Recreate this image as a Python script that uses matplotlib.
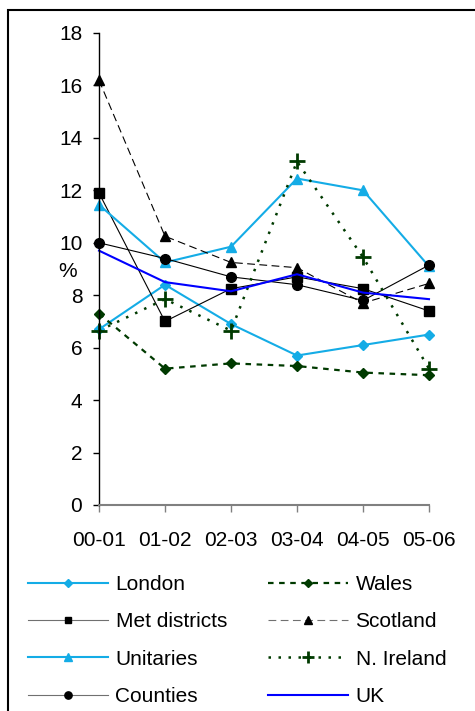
import matplotlib
matplotlib.use("Agg")
import matplotlib.pyplot as plt
from matplotlib.patches import Rectangle

plt.rcParams['font.family'] = ['Liberation Sans', 'DejaVu Sans']

years = ['00-01', '01-02', '02-03', '03-04', '04-05', '05-06']

london = [6.7, 8.4, 6.9, 5.7, 6.1, 6.5]
met_districts = [11.9, 7.0, 8.25, 8.7, 8.25, 7.4]
unitaries = [11.45, 9.25, 9.85, 12.45, 12.0, 9.1]
counties = [10.0, 9.4, 8.7, 8.4, 7.8, 9.15]
wales = [7.3, 5.2, 5.4, 5.3, 5.05, 4.95]
scotland = [16.2, 10.25, 9.25, 9.05, 7.7, 8.45]
n_ireland = [6.65, 7.85, 6.65, 13.1, 9.45, 5.2]
uk = [9.7, 8.5, 8.15, 8.8, 8.1, 7.85]

sky = '#14ACE6'
green = '#003A00'

fig = plt.figure(figsize=(4.75, 7.11), dpi=100)
ax = fig.add_axes([99 / 475, 1 - 505 / 711, 330 / 475, 472 / 711])

x = range(len(years))
h_london, = ax.plot(x, london, color=sky, lw=1.5, marker='D', ms=5.5, label='London')
h_met, = ax.plot(x, met_districts, color='black', lw=0.8, marker='s', ms=6.5, label='Met districts')
h_uni, = ax.plot(x, unitaries, color=sky, lw=1.5, marker='^', ms=7.5, label='Unitaries')
h_cty, = ax.plot(x, counties, color='black', lw=0.8, marker='o', ms=7, label='Counties')
h_wales, = ax.plot(x, wales, color=green, lw=1.6, ls=(0, (2.5, 2.5)), marker='D', ms=5.5, label='Wales')
h_scot, = ax.plot(x, scotland, color='black', lw=0.8, ls=(0, (7, 4)), marker='^', ms=7, label='Scotland')
h_ni, = ax.plot(x, n_ireland, color=green, lw=1.8, ls=(0, (1, 3)), marker='+', ms=11, mew=2, label='N. Ireland')
h_uk, = ax.plot(x, uk, color='#0000FF', lw=1.5, label='UK')

ax.set_xlim(0, 5)
ax.set_ylim(0, 18)
ax.set_yticks(range(0, 19, 2))
ax.set_xticks(list(x))
ax.set_xticklabels(years)
for s in ['top', 'right']:
    ax.spines[s].set_visible(False)
ax.spines['left'].set_color('black')
ax.spines['left'].set_linewidth(1.0)
ax.spines['bottom'].set_color('#808080')
ax.spines['bottom'].set_linewidth(1.5)
ax.tick_params(axis='y', length=4, width=1, pad=8, labelsize=15, colors='black')
ax.tick_params(axis='x', length=5, width=1, color='#808080', pad=14, labelsize=15, labelcolor='black')
for m in [h_london, h_met, h_uni, h_cty, h_wales, h_scot, h_ni, h_uk]:
    m.set_clip_on(False)

fig.text(68 / 475, 1 - 271 / 711, '%', fontsize=15, ha='center', va='center')

leg_opts = dict(frameon=False, fontsize=15, handlelength=3.85, handletextpad=0.35,
                labelspacing=0.88, numpoints=1, markerscale=0.75, borderpad=0,
                borderaxespad=0, loc='upper left')
leg1 = fig.legend(handles=[h_london, h_met, h_uni, h_cty],
                  bbox_to_anchor=(28 / 475, 1 - 575 / 711), **leg_opts)
leg2 = fig.legend(handles=[h_wales, h_scot, h_ni, h_uk],
                  bbox_to_anchor=(268 / 475, 1 - 575 / 711), **leg_opts)
for leg in (leg1, leg2):
    for line in leg.get_lines():
        if line.get_color() == 'black':
            line.set_color('#707070')
            line.set_markerfacecolor('black')
            line.set_markeredgecolor('black')

# outer chart border
fig.patches.append(Rectangle((8 / 475, -0.1), 1.2, 1.1 - 10 / 711, transform=fig.transFigure,
                             fill=False, lw=1.5, edgecolor='black'))

fig.savefig('out.png', dpi=100)
